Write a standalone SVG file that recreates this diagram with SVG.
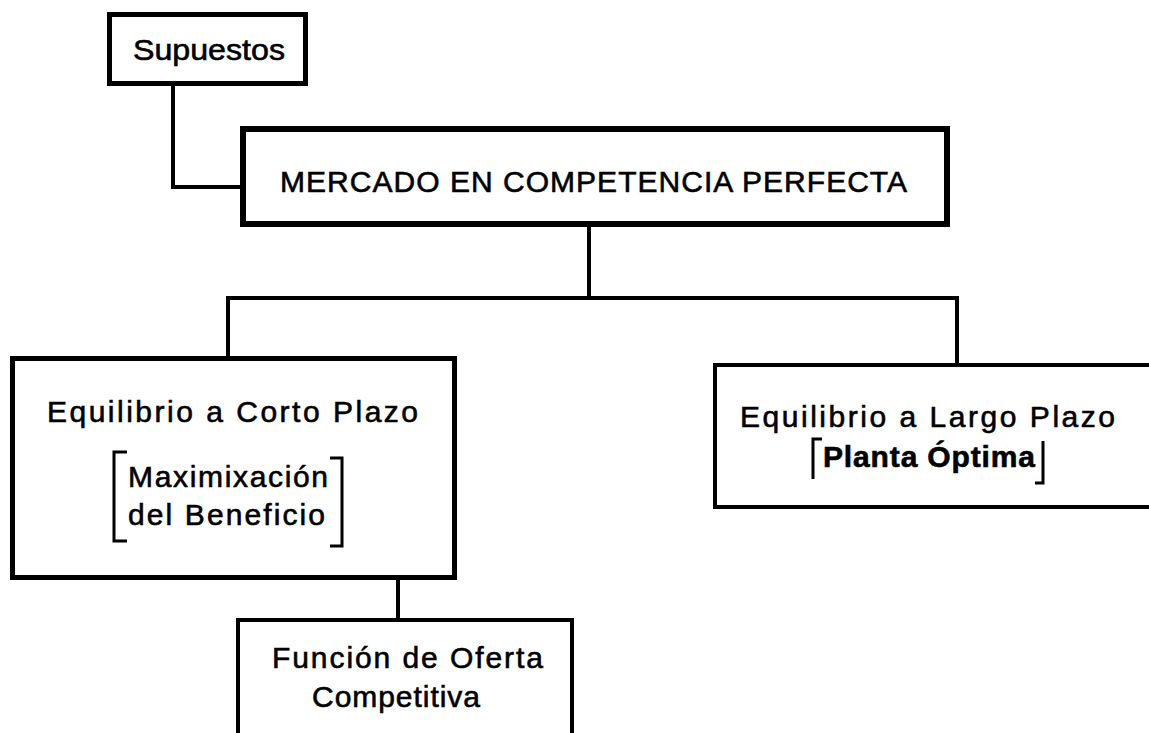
<svg xmlns="http://www.w3.org/2000/svg" width="1149" height="733" viewBox="0 0 1149 733">
<style>
.t{font-family:"Liberation Sans",Arial,sans-serif;font-size:30px;fill:#000;stroke:#000;stroke-width:0.6}
.b{fill:none;stroke:#000;stroke-linejoin:miter}
.c{fill:none;stroke:#000;stroke-width:4}
.br{fill:none;stroke:#000;stroke-width:3}
</style>
<rect width="1149" height="733" fill="#fff"/>
<g id="connectors">
<path class="c" d="M173,85 V187 H242"/>
<path class="c" d="M589,226 V298 H957 V365"/>
<path class="c" d="M589,298 H228 V358"/>
<path class="c" d="M398,578 V620"/>
</g>
<g id="supuestos">
<rect class="b" x="109.5" y="14.5" width="196" height="69" stroke-width="5"/>
<text class="t" x="133" y="60" textLength="152" lengthAdjust="spacingAndGlyphs">Supuestos</text>
</g>
<g id="mercado">
<rect class="b" x="243" y="129" width="704" height="95" stroke-width="6"/>
<text class="t" x="280" y="192" textLength="627" lengthAdjust="spacing">MERCADO EN COMPETENCIA PERFECTA</text>
</g>
<g id="corto">
<rect class="b" x="12.5" y="358.5" width="442" height="219" stroke-width="5"/>
<text class="t" x="47" y="422" textLength="371" lengthAdjust="spacing">Equilibrio a Corto Plazo</text>
<path class="br" d="M127,452 H114 V541 H127"/>
<path class="br" d="M330,458 H342 V546 H330"/>
<text class="t" x="128" y="487" textLength="200" lengthAdjust="spacing">Maximixación</text>
<text class="t" x="128" y="525" textLength="197" lengthAdjust="spacing">del Beneficio</text>
</g>
<g id="largo">
<path class="b" d="M1152,365 H715 V507 H1152" stroke-width="4"/>
<text class="t" x="740" y="427" textLength="375" lengthAdjust="spacing">Equilibrio a Largo Plazo</text>
<path class="br" d="M822,439 H813 V479" stroke-width="4"/>
<path class="br" d="M1035,483 H1043 V441" stroke-width="4"/>
<text class="t" x="823" y="467" textLength="212" lengthAdjust="spacing" font-weight="bold" stroke-width="0">Planta Óptima</text>
</g>
<g id="oferta">
<path class="b" d="M238,736 V620 H572 V736" stroke-width="4"/>
<text class="t" x="272" y="668" textLength="271" lengthAdjust="spacing">Función de Oferta</text>
<text class="t" x="312" y="707" textLength="168" lengthAdjust="spacing">Competitiva</text>
</g>
</svg>
